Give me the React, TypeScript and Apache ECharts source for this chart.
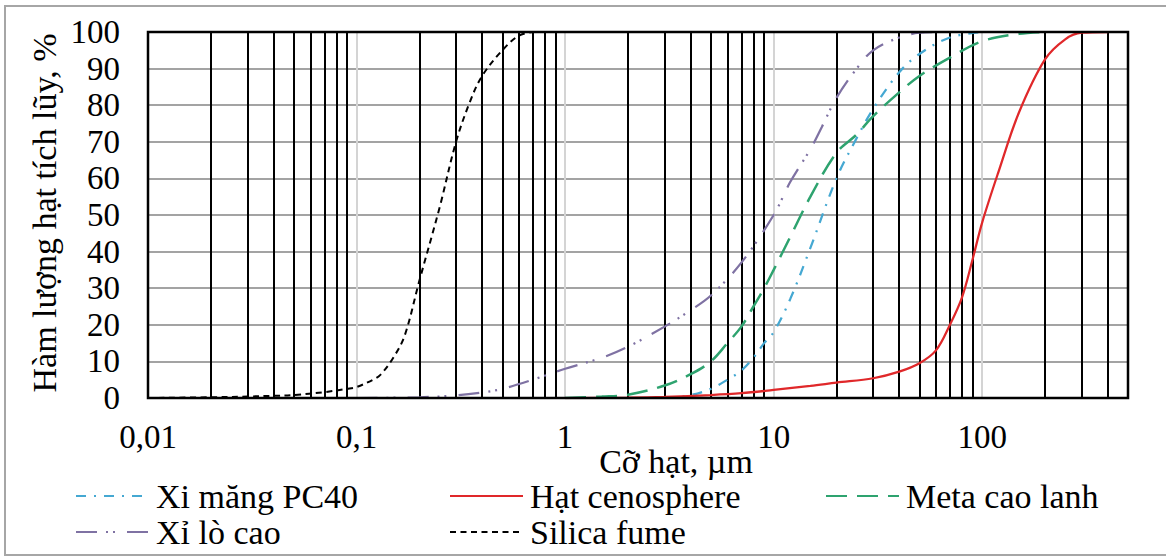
import React, { useEffect, useRef } from 'react';
import * as echarts from 'echarts';

// ---- Data (particle size in µm, cumulative passing in %) ----
const pc40Size = [3, 4, 5, 6, 7, 8, 9, 10, 12, 15, 20, 25, 30, 40, 50, 70, 100];
const pc40Value = [0, 0.8, 2.5, 5, 7.5, 11, 15, 18, 27, 41, 60, 71, 79, 89, 94, 98.5, 100];

const cenoSize = [1, 2, 3, 5, 7, 10, 15, 20, 30, 40, 50, 60, 70, 80, 90, 100, 120, 150, 200, 250, 300, 400];
const cenoValue = [0, 0.1, 0.3, 0.8, 1.3, 2.2, 3.3, 4.2, 5.4, 7.2, 9.5, 13, 20, 27.5, 38, 48, 62, 78, 92.5, 98, 99.8, 100];

const metaSize = [1, 1.5, 2, 3, 4, 5, 6, 7, 8, 9, 10, 12, 15, 20, 25, 30, 40, 50, 70, 100, 150, 200];
const metaValue = [0, 0.4, 0.9, 3.4, 6.5, 10, 15, 19.5, 25, 30, 35, 44, 55, 67, 72, 77, 83.5, 88, 93, 97.5, 99.5, 100];

const slagSize = [0.1, 0.2, 0.3, 0.4, 0.5, 0.7, 1, 1.5, 2, 3, 4, 5, 7, 10, 12, 15, 17, 20, 25, 30, 40, 50, 60];
const slagValue = [0, 0.2, 0.7, 1.5, 2.5, 5, 8, 11, 14, 19.5, 24, 28, 37, 50, 59, 68, 74, 82, 90, 95, 98.5, 99.8, 100];

const silicaSize = [0.01, 0.02, 0.03, 0.04, 0.05, 0.07, 0.09, 0.1, 0.12, 0.13, 0.15, 0.17, 0.2, 0.25, 0.3, 0.35, 0.4, 0.5, 0.6, 0.7];
const silicaValue = [0, 0.2, 0.4, 0.6, 0.8, 1.6, 2.5, 3, 5, 6.3, 11, 17, 32, 52, 70, 81, 88, 95, 99, 100];

const seriesNames = ['Xi măng PC40', 'Hạt cenosphere', 'Meta cao lanh', 'Xỉ lò cao', 'Silica fume'];

// x-axis tick labels (decades) and minor grid positions
const xTickValues = [0.01, 0.1, 1, 10, 100];
const xTickLabels = ['0,01', '0,1', '1', '10', '100'];
const minorGrid = [
  0.02, 0.03, 0.04, 0.05, 0.06, 0.07, 0.08, 0.09,
  0.2, 0.3, 0.4, 0.5, 0.6, 0.7, 0.8, 0.9,
  2, 3, 4, 5, 6, 7, 8, 9,
  20, 30, 40, 50, 60, 70, 80, 90,
  200, 300, 400,
];

const FONT = '"Liberation Serif", "Times New Roman", serif';

const zip = (a: number[], b: number[]) => a.map((v, i) => [v, b[i]]);

export default function App() {
  const ref = useRef<HTMLDivElement>(null);
  useEffect(() => {
    document.body.style.margin = '0';
    const chart = echarts.init(ref.current!, null, { renderer: 'svg' });
    const lineBase = { type: 'line', symbol: 'none', showSymbol: false, smooth: 0.35, z: 3, silent: true };
    const legendText = { fontSize: 34, fontFamily: FONT, color: '#000', padding: [0, 0, 0, 2] };
    const legendCommon = {
      orient: 'vertical', itemWidth: 73, itemHeight: 12, itemGap: 2, selectedMode: false,
      textStyle: legendText, padding: 0, itemStyle: { opacity: 0 },
    };
    chart.setOption({
      animation: false,
      backgroundColor: '#fff',
      grid: { left: 148, right: 38, top: 32, bottom: 161, show: true, borderColor: '#000', borderWidth: 2.5, backgroundColor: 'transparent', z: 4 },
      xAxis: {
        type: 'log', logBase: 10, min: 0.01, max: 500,
        axisLine: { show: false }, axisTick: { show: false },
        axisLabel: {
          fontSize: 33, fontFamily: FONT, color: '#000', margin: 22,
          formatter: (v: number) => {
            const i = xTickValues.findIndex((t) => Math.abs(t - v) / t < 1e-6);
            return i >= 0 ? xTickLabels[i] : '';
          },
        },
        splitLine: { show: true, showMinLine: false, showMaxLine: false, lineStyle: { color: '#d4d4d4', width: 2 } },
      },
      yAxis: {
        type: 'value', min: 0, max: 100, interval: 10,
        axisLine: { show: false }, axisTick: { show: false },
        axisLabel: { fontSize: 33, fontFamily: FONT, color: '#000', margin: 28 },
        splitLine: { show: true, showMinLine: false, showMaxLine: false, lineStyle: { color: '#a3a3a3', width: 2 } },
      },
      legend: [
        { ...legendCommon, left: 75, top: 479, data: ['Xi măng PC40', 'Xỉ lò cao'] },
        { ...legendCommon, left: 449, top: 479, data: ['Hạt cenosphere', 'Silica fume'] },
        { ...legendCommon, left: 825, top: 479, data: ['Meta cao lanh'] },
      ],
      graphic: [
        { type: 'rect', silent: true, z: -10, shape: { x: 5, y: 6, width: 1175, height: 549 }, style: { fill: 'none', stroke: '#a6a6a6', lineWidth: 2 } },
        { type: 'text', silent: true, x: 676, y: 461, style: { text: 'Cỡ hạt, µm', font: `34px ${FONT}`, fill: '#000', align: 'center', verticalAlign: 'middle', textAlign: 'center', textVerticalAlign: 'middle' } },
        { type: 'text', silent: true, x: 44, y: 213, rotation: Math.PI / 2, style: { text: 'Hàm lượng hạt tích lũy, %', font: `34px ${FONT}`, fill: '#000', align: 'center', verticalAlign: 'middle', textAlign: 'center', textVerticalAlign: 'middle' } },
      ],
      series: [
        {
          type: 'line', name: '__minor', data: [], symbol: 'none', silent: true, z: 1,
          markLine: {
            silent: true, z: 1, symbol: ['none', 'none'], label: { show: false },
            lineStyle: { color: '#000', width: 2, type: 'solid' },
            emphasis: { disabled: true },
            data: minorGrid.map((v) => ({ xAxis: v })),
          },
        },
        { ...lineBase, name: seriesNames[0], data: zip(pc40Size, pc40Value), lineStyle: { color: '#45a8d2', width: 2.25, type: [10, 8, 2, 8] }, itemStyle: { color: '#45a8d2' } },
        { ...lineBase, name: seriesNames[1], data: zip(cenoSize, cenoValue), lineStyle: { color: '#e0282a', width: 2.25, type: 'solid' }, itemStyle: { color: '#e0282a' } },
        { ...lineBase, name: seriesNames[2], data: zip(metaSize, metaValue), lineStyle: { color: '#2ea36f', width: 2.5, type: [21, 10] }, itemStyle: { color: '#2ea36f' } },
        { ...lineBase, name: seriesNames[3], data: zip(slagSize, slagValue), lineStyle: { color: '#7f72a3', width: 2.25, type: [21, 9, 2, 5, 2, 12] }, itemStyle: { color: '#7f72a3' } },
        { ...lineBase, name: seriesNames[4], data: zip(silicaSize, silicaValue), lineStyle: { color: '#000', width: 2, type: [6, 4.5] }, itemStyle: { color: '#000' } },
      ],
    });
    return () => chart.dispose();
  }, []);
  return <div ref={ref} style={{ width: 1166, height: 559, background: '#fff' }} />;
}
